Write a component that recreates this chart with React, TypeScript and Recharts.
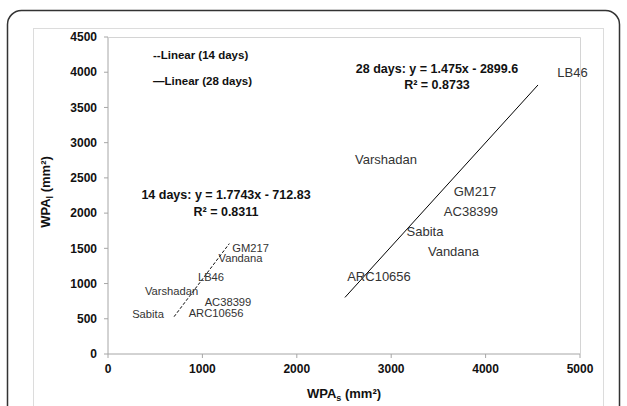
import React from 'react';
import { ScatterChart, Scatter, XAxis, YAxis } from 'recharts';

const FONT = "Arial, 'Liberation Sans', sans-serif";

// Genotype labels
const genotypes14 = ['GM217', 'Vandana', 'LB46', 'Varshadan', 'AC38399', 'ARC10656', 'Sabita'];
const wpaS14 = [1510, 1404, 1091, 673, 1271, 1144, 424];
const wpaL14 = [1502, 1358, 1093, 894, 742, 588, 568];

const genotypes28 = ['LB46', 'Varshadan', 'GM217', 'AC38399', 'Sabita', 'Vandana', 'ARC10656'];
const wpaS28 = [4921, 2945, 3888, 3845, 3358, 3660, 2871];
const wpaL28 = [3989, 2754, 2300, 2016, 1732, 1448, 1107];

// Trendline end points
const trend14X = [700, 1285];
const trend14Y = [530, 1567];
const trend28X = [2510, 4555];
const trend28Y = [803, 3819];

const xTicks = [0, 1000, 2000, 3000, 4000, 5000];
const yTicks = [0, 500, 1000, 1500, 2000, 2500, 3000, 3500, 4000, 4500];

const legendLabels = ['--Linear (14 days)', '\u2014Linear (28 days)'];
const eq14 = ['14 days: y = 1.7743x - 712.83', 'R\u00B2 = 0.8311'];
const eq28 = ['28 days: y = 1.475x - 2899.6', 'R\u00B2 = 0.8733'];

const data14 = genotypes14.map((g, i) => ({ name: g, x: wpaS14[i], y: wpaL14[i] }));
const data28 = genotypes28.map((g, i) => ({ name: g, x: wpaS28[i], y: wpaL28[i] }));
const t14 = trend14X.map((x, i) => ({ x, y: trend14Y[i] }));
const t28 = trend28X.map((x, i) => ({ x, y: trend28Y[i] }));

const makeLabelShape = (size: number) => (props: any) => {
  const { cx, cy, payload } = props;
  if (cx == null || cy == null) return <g />;
  return (
    <text x={cx} y={cy} textAnchor="middle" dominantBaseline="central" fontFamily={FONT} fontSize={size} fill="#333">
      {payload.name}
    </text>
  );
};

const noShape = () => <g />;

export default function App() {
  return (
    <div style={{ position: 'absolute', left: 0, top: 0, width: 627, height: 406, background: '#fff', overflow: 'hidden' }}>
      <ScatterChart width={627} height={406} margin={{ top: 37, right: 47, bottom: 22, left: 48 }}>
        <XAxis
          type="number"
          dataKey="x"
          domain={[0, 5000]}
          ticks={xTicks}
          height={30}
          stroke="#a6a6a6"
          tickSize={4}
          tickMargin={6}
          tick={{ fill: '#111', fontSize: 12, fontWeight: 'bold', fontFamily: FONT }}
        />
        <YAxis
          type="number"
          dataKey="y"
          domain={[0, 4500]}
          ticks={yTicks}
          width={60}
          stroke="#a6a6a6"
          tickSize={4}
          tickMargin={7}
          tick={{ fill: '#111', fontSize: 12, fontWeight: 'bold', fontFamily: FONT }}
        />
        <Scatter data={t14} line={{ stroke: '#000', strokeWidth: 1, strokeDasharray: '3 2' }} shape={noShape} isAnimationActive={false} />
        <Scatter data={t28} line={{ stroke: '#000', strokeWidth: 1 }} shape={noShape} isAnimationActive={false} />
        <Scatter data={data14} shape={makeLabelShape(11.2)} isAnimationActive={false} />
        <Scatter data={data28} shape={makeLabelShape(13)} isAnimationActive={false} />
      </ScatterChart>
      <svg width={627} height={406} style={{ position: 'absolute', left: 0, top: 0, pointerEvents: 'none' }}>
        <rect x={7.5} y={10.5} width={612} height={420} rx={14} ry={14} fill="none" stroke="#333" strokeWidth={1.5} />
        <rect x={33.5} y={28.5} width={570} height={400} fill="none" stroke="#dcdcdc" strokeWidth={1} />
        <line x1={108} y1={37.5} x2={580.5} y2={37.5} stroke="#d4d4d4" />
        <line x1={580.5} y1={37.5} x2={580.5} y2={354} stroke="#d4d4d4" />
        <g fontFamily={FONT} fontWeight="bold" fill="#111">
          <text x={153} y={59} fontSize={11.5}>{legendLabels[0]}</text>
          <text x={153} y={85} fontSize={11.5}>{legendLabels[1]}</text>
          <text x={226} y={199} fontSize={12.5} textAnchor="middle">{eq14[0]}</text>
          <text x={226} y={216} fontSize={12.5} textAnchor="middle">{eq14[1]}</text>
          <text x={437} y={73} fontSize={12.5} textAnchor="middle">{eq28[0]}</text>
          <text x={437} y={89} fontSize={12.5} textAnchor="middle">{eq28[1]}</text>
          <text x={344} y={398} fontSize={13} textAnchor="middle">
            WPA<tspan fontSize={9} dy={3}>s</tspan><tspan dy={-3}> (mm²)</tspan>
          </text>
          <text x={0} y={0} fontSize={13} textAnchor="middle" transform="translate(50,192) rotate(-90)">
            WPA<tspan fontSize={9} dy={3}>l</tspan><tspan dy={-3}> (mm²)</tspan>
          </text>
        </g>
      </svg>
    </div>
  );
}
